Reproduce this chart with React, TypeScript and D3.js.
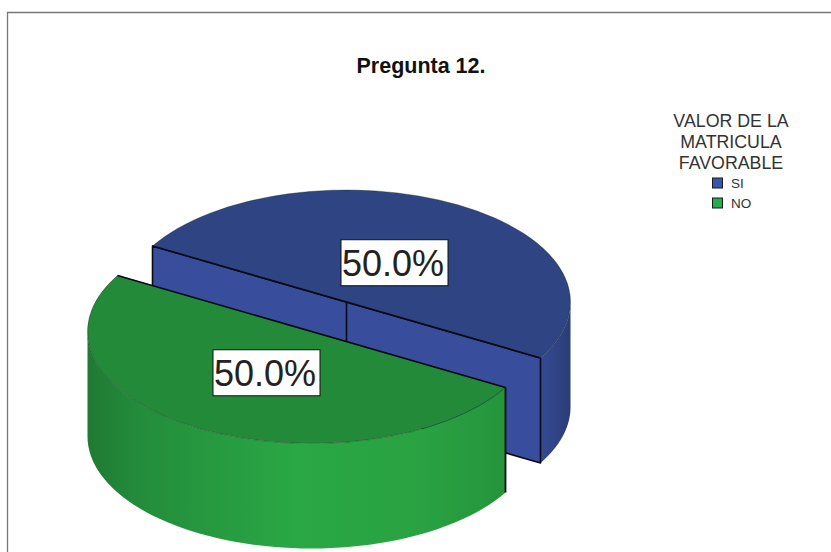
import * as d3 from "d3";

const categories = ["SI", "NO"];
const values = [50, 50];
const labels = ["50.0%", "50.0%"];
const legendTitle = ["VALOR DE LA", "MATRICULA", "FAVORABLE"];

const W = 831;
const H = 552;
const FONT = "'Liberation Sans', Arial, sans-serif";

const PIE = {
  rx: 224,
  ry: 112,
  depth: 105,
  labelRadius: 93,
  startAngle: -Math.PI / 3,
};

// each slice has its own center because the pie is exploded
const CENTERS = [
  { x: 346.5, y: 302 },
  { x: 311.5, y: 331.5 },
];

const COLORS = [
  { top: "#2f4482", face: "#384e9c", swatch: "#3558ae" },
  { top: "#238a39", face: "#238a39", swatch: "#22ae4a" },
];

const arcs = d3
  .pie<number>()
  .sort(null)
  .startAngle(PIE.startAngle)
  .endAngle(PIE.startAngle + 2 * Math.PI)(values);

const squash = PIE.ry / PIE.rx;

const topArc = d3.arc<d3.PieArcDatum<number>>().innerRadius(0).outerRadius(PIE.rx);
const labelArc = d3
  .arc<d3.PieArcDatum<number>>()
  .innerRadius(PIE.labelRadius)
  .outerRadius(PIE.labelRadius);

const line = d3.line<[number, number]>();

function rimPoint(i: number, a: number, dy = 0): [number, number] {
  const c = CENTERS[i];
  return [c.x + PIE.rx * Math.sin(a), c.y - PIE.ry * Math.cos(a) + dy];
}

// outer wall, only the part of the rim that faces the viewer
function wallPath(i: number) {
  const a0 = Math.max(arcs[i].startAngle, Math.PI / 2);
  const a1 = Math.min(arcs[i].endAngle, (3 * Math.PI) / 2);
  const steps = d3.range(0, 61).map((k) => a0 + ((a1 - a0) * k) / 60);
  const upper = steps.map((a) => rimPoint(i, a));
  const lower = steps.slice().reverse().map((a) => rimPoint(i, a, PIE.depth));
  return line([...upper, ...lower]) + "Z";
}

function PieSlice({ i }: { i: number }) {
  const c = CENTERS[i];
  const arc = arcs[i];
  const color = COLORS[i];
  const startPt = rimPoint(i, arc.startAngle);
  const endPt = rimPoint(i, arc.endAngle);
  const mid: [number, number] = [c.x, c.y];
  const down = (p: [number, number]): [number, number] => [p[0], p[1] + PIE.depth];

  return (
    <g className="slice">
      <path d={wallPath(i)} fill={`url(#wall${i})`} />
      {i === 0 && (
        <g>
          <path
            d={line([startPt, endPt, down(endPt), down(startPt)]) + "Z"}
            fill={color.face}
            stroke="#0a0a14"
            strokeWidth={1.6}
            strokeLinejoin="round"
          />
          <path d={line([mid, down(mid)])!} stroke="#0a0a14" strokeWidth={1.6} />
        </g>
      )}
      <g transform={`translate(${c.x},${c.y}) scale(1,${squash})`}>
        <path
          d={topArc(arc)!}
          fill={color.top}
          stroke="#10201a"
          strokeOpacity={0.45}
          strokeWidth={0.8}
          vectorEffect="non-scaling-stroke"
        />
      </g>
      <path d={line([startPt, endPt])!} stroke="#0a0a14" strokeWidth={1.6} />
      {i === 1 && (
        <path d={line([startPt, down(startPt)])!} stroke="#0a0a14" strokeWidth={1.8} />
      )}
    </g>
  );
}

function PieLabel({ i }: { i: number }) {
  const [lx, ly] = labelArc.centroid(arcs[i]);
  const x = CENTERS[i].x + lx + 1.5;
  const y = CENTERS[i].y + ly * squash + 1;
  const boxW = 107;
  const boxH = 46;
  return (
    <g className="label">
      <rect
        x={x - boxW / 2}
        y={y - boxH / 2}
        width={boxW}
        height={boxH}
        fill="#fff"
        stroke="#111"
        strokeWidth={1}
      />
      <text
        x={x - 1.5}
        y={y + 13}
        textAnchor="middle"
        fontFamily={FONT}
        fontSize={36}
        fill="#222"
      >
        {labels[i]}
      </text>
    </g>
  );
}

function Legend() {
  const titleY = d3.scaleLinear().domain([0, 1]).range([127, 148]);
  const rowY = d3.scaleLinear().domain([0, 1]).range([178, 198]);
  return (
    <g className="legend">
      {legendTitle.map((t, i) => (
        <text
          key={t}
          x={731}
          y={titleY(i)}
          textAnchor="middle"
          fontFamily={FONT}
          fontSize={17.8}
          fill="#333"
        >
          {t}
        </text>
      ))}
      {categories.map((cat, i) => (
        <g key={cat}>
          <rect
            x={712.5}
            y={rowY(i)}
            width={10}
            height={10}
            fill={COLORS[i].swatch}
            stroke="#1a1a1a"
            strokeWidth={1}
          />
          <text
            x={731}
            y={rowY(i) + 9.5}
            fontFamily={FONT}
            fontSize={13.5}
            fill="#333"
          >
            {cat}
          </text>
        </g>
      ))}
    </g>
  );
}

export default function App() {
  return (
    <svg
      width={W}
      height={H}
      style={{ position: "absolute", left: 0, top: 0, background: "#fff" }}
      xmlns="http://www.w3.org/2000/svg"
    >
      <defs>
        <linearGradient id="wall0" gradientUnits="userSpaceOnUse" x1={540} x2={571} y1={0} y2={0}>
          <stop offset="0%" stopColor="#354a95" />
          <stop offset="100%" stopColor="#2b3d75" />
        </linearGradient>
        <linearGradient id="wall1" gradientUnits="userSpaceOnUse" x1={88} x2={505} y1={0} y2={0}>
          <stop offset="0%" stopColor="#1f7a33" />
          <stop offset="12%" stopColor="#238c3b" />
          <stop offset="50%" stopColor="#2aa845" />
          <stop offset="80%" stopColor="#29a242" />
          <stop offset="100%" stopColor="#25943c" />
        </linearGradient>
      </defs>
      <path d={`M7.5,${H}V12.5H${W}`} fill="none" stroke="#777" strokeWidth={1.3} />
      <text
        x={421}
        y={73}
        textAnchor="middle"
        fontFamily={FONT}
        fontSize={21.5}
        fontWeight="bold"
        fill="#111"
      >
        Pregunta 12.
      </text>
      <PieSlice i={0} />
      <PieSlice i={1} />
      <PieLabel i={0} />
      <PieLabel i={1} />
      <Legend />
    </svg>
  );
}
